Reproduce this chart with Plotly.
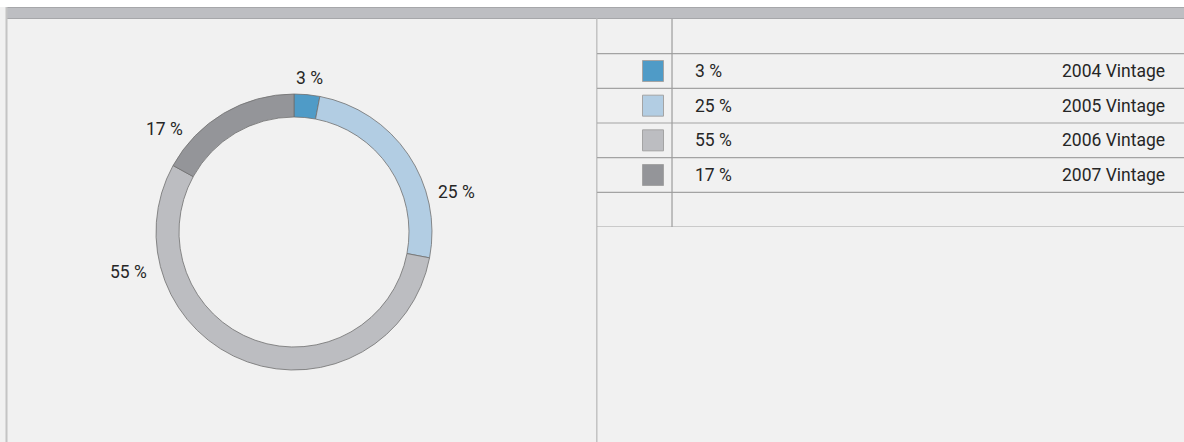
import plotly.graph_objects as go

# ---- data ----
vintages = ["2004 Vintage", "2005 Vintage", "2006 Vintage", "2007 Vintage"]
shares = [3, 25, 55, 17]
colors = ["#4f9bc7", "#b2cde3", "#bcbdc1", "#949599"]

# ---- layout constants (pixels) ----
W, H = 1184, 442
FONT = "Roboto, 'DejaVu Sans', sans-serif"
FS = 17.5
TXT = "#262626"


def px(x):
    return x / W


def py(y):
    return 1 - y / H


fig = go.Figure()

# donut
cx, cy, r_out, r_in = 294, 232, 138, 115
fig.add_trace(go.Pie(
    values=shares, labels=vintages, sort=False, direction="clockwise", rotation=0,
    hole=r_in / r_out,
    marker=dict(colors=colors, line=dict(color="#707070", width=0.8)),
    textinfo="none", hoverinfo="label+percent", showlegend=False,
    domain=dict(x=[px(cx - r_out), px(cx + r_out)], y=[py(cy + r_out), py(cy - r_out)]),
))

# legend table swatches
SW_X, COL_X, PCT_X, LAB_X = 0.0954, 0.1278, 0.1635, 0.971
rows = list(range(1, len(vintages) + 1))
fig.add_trace(go.Scatter(
    x=[SW_X] * len(vintages), y=rows, mode="markers", xaxis="x2", yaxis="y2",
    marker=dict(symbol="square", size=21, color=colors, line=dict(color="#a4a4a4", width=1)),
    hoverinfo="skip", showlegend=False,
))

shapes = []
# top white strip
shapes.append(dict(type="rect", xref="paper", yref="paper", x0=0, x1=1, y0=py(7), y1=1,
                   fillcolor="white", line=dict(width=0), layer="below"))
# header band
shapes.append(dict(type="rect", xref="paper", yref="paper", x0=px(7), x1=1, y0=py(18.5), y1=py(7),
                   fillcolor="#bdbec2", line=dict(width=0), layer="below"))
for yy in (7.5, 18.5):
    shapes.append(dict(type="line", xref="paper", yref="paper", x0=px(7), x1=1, y0=py(yy), y1=py(yy),
                       line=dict(color="#a6a7aa", width=1)))
# left frame line
shapes.append(dict(type="line", xref="paper", yref="paper", x0=px(6.5), x1=px(6.5), y0=0, y1=py(7),
                   line=dict(color="#c4c4c4", width=2)))
# panel divider
shapes.append(dict(type="line", xref="paper", yref="paper", x0=px(596.8), x1=px(596.8), y0=0, y1=py(18.5),
                   line=dict(color="#c2c2c2", width=1.5)))
# table row lines
for k in range(0, len(vintages) + 2):
    shapes.append(dict(type="line", xref="x2 domain", yref="y2", x0=0, x1=1, y0=k + 0.5, y1=k + 0.5,
                       line=dict(color="#a3a3a3", width=1.2)))
# column divider
shapes.append(dict(type="line", xref="x2", yref="y2", x0=COL_X, x1=COL_X, y0=-0.5, y1=len(vintages) + 1.5,
                   line=dict(color="#9c9c9c", width=1.2)))

annotations = []
for i, (v, lab) in enumerate(zip(shares, vintages)):
    annotations.append(dict(xref="x2", yref="y2", x=PCT_X, y=i + 1, text=f"{v} %", showarrow=False,
                            xanchor="left", yanchor="middle", font=dict(family=FONT, size=FS, color=TXT)))
    annotations.append(dict(xref="x2", yref="y2", x=LAB_X, y=i + 1, text=lab, showarrow=False,
                            xanchor="right", yanchor="middle", font=dict(family=FONT, size=FS, color=TXT)))

# donut labels (positions are layout)
label_pos = [(309, 78), (456, 192), (128, 272), (164, 129)]
for v, (lx, ly) in zip(shares, label_pos):
    annotations.append(dict(xref="paper", yref="paper", x=px(lx), y=py(ly), text=f"{v} %", showarrow=False,
                            xanchor="center", yanchor="middle", font=dict(family=FONT, size=FS, color=TXT)))

fig.update_layout(
    width=W, height=H, margin=dict(l=0, r=0, t=0, b=0, pad=0),
    paper_bgcolor="#f1f1f1", plot_bgcolor="rgba(0,0,0,0)",
    xaxis=dict(visible=False), yaxis=dict(visible=False),
    xaxis2=dict(domain=[px(597), 1], range=[0, 1], visible=False, fixedrange=True),
    yaxis2=dict(domain=[py(227), py(19)], range=[len(vintages) + 1.5, -0.5], visible=False,
                anchor="x2", fixedrange=True),
    shapes=shapes, annotations=annotations,
)

fig.write_html("out.html")
